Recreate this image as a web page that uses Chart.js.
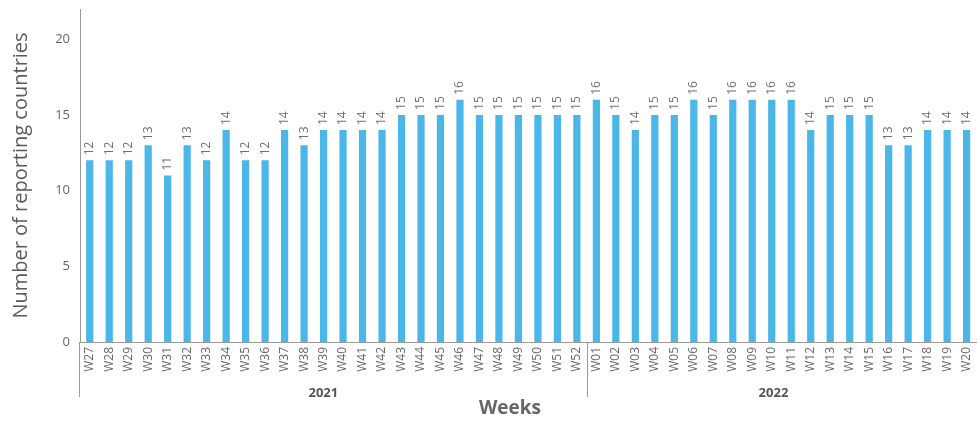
<!DOCTYPE html>
<html>
<head>
<meta charset="utf-8">
<script src="https://cdn.jsdelivr.net/npm/chart.js@4"></script>
<style>
  html, body { margin: 0; padding: 0; background: #fff; overflow: hidden; }
</style>
</head>
<body>
<canvas id="weeksChart" width="986" height="421"></canvas>
<script>
// weeks per year
const weeks2021 = ['W27','W28','W29','W30','W31','W32','W33','W34','W35','W36','W37','W38','W39',
  'W40','W41','W42','W43','W44','W45','W46','W47','W48','W49','W50','W51','W52'];
const weeks2022 = ['W01','W02','W03','W04','W05','W06','W07','W08','W09','W10',
  'W11','W12','W13','W14','W15','W16','W17','W18','W19','W20'];
const countries2021 = [12,12,12,13,11,13,12,14,12,12,14,13,14,14,14,14,15,15,15,16,15,15,15,15,15,15];
const countries2022 = [16,15,14,15,15,16,15,16,16,16,16,14,15,15,15,13,13,14,14,14];
const years = ['2021', '2022'];
const yTicks = [0, 5, 10, 15, 20];

const labels = weeks2021.concat(weeks2022);
const values = countries2021.concat(countries2022);

const fontName = '"Open Sans", "Noto Sans", sans-serif';
const axisGrey = '#9a9a9a';

// value labels, year groups, separators
const extras = {
  id: 'extras',
  afterDatasetsDraw(chart) {
    const ctx = chart.ctx;
    const x = chart.scales.x;
    const area = chart.chartArea;
    const meta = chart.getDatasetMeta(0);

    ctx.save();
    ctx.fillStyle = '#707070';
    ctx.font = '12px ' + fontName;
    ctx.textAlign = 'left';
    ctx.textBaseline = 'middle';
    meta.data.forEach((bar, i) => {
      ctx.save();
      ctx.translate(bar.x, bar.y - 5);
      ctx.rotate(-Math.PI / 2);
      ctx.fillText(String(values[i]), 0, 0);
      ctx.restore();
    });

    // axis extension + year separator
    const sepX = (x.getPixelForValue(weeks2021.length - 1) + x.getPixelForValue(weeks2021.length)) / 2;
    ctx.strokeStyle = axisGrey;
    ctx.lineWidth = 1;
    ctx.beginPath();
    ctx.moveTo(area.left - 0.5, area.bottom);
    ctx.lineTo(area.left - 0.5, 397);
    ctx.moveTo(Math.round(sepX) + 0.5, area.bottom);
    ctx.lineTo(Math.round(sepX) + 0.5, 397);
    ctx.stroke();

    // year labels
    ctx.fillStyle = '#555';
    ctx.font = 'bold 13px ' + fontName;
    ctx.textAlign = 'center';
    const c1 = (x.getPixelForValue(0) + x.getPixelForValue(weeks2021.length - 1)) / 2 - 10;
    const c2 = (x.getPixelForValue(weeks2021.length) + x.getPixelForValue(labels.length - 1)) / 2 - 8;
    ctx.fillText(years[0], c1, 393);
    ctx.fillText(years[1], c2, 393);

    // x axis title
    ctx.fillStyle = '#666';
    ctx.font = 'bold 19px ' + fontName;
    ctx.fillText('Weeks', 510, 409);
    ctx.restore();
  }
};

new Chart(document.getElementById('weeksChart'), {
  type: 'bar',
  data: {
    labels: labels,
    datasets: [{
      label: 'Number of reporting countries',
      data: values,
      backgroundColor: '#4bb6e8',
      borderWidth: 0,
      barPercentage: 0.37,
      categoryPercentage: 1
    }]
  },
  options: {
    responsive: false,
    animation: false,
    layout: { padding: { top: 9, right: 0, left: 0, bottom: 0 } },
    plugins: {
      legend: { display: false },
      tooltip: { enabled: false }
    },
    scales: {
      x: {
        grid: { display: false, drawTicks: false },
        border: { display: true, color: axisGrey, width: 1 },
        ticks: {
          autoSkip: false,
          minRotation: 90,
          maxRotation: 90,
          padding: 5,
          color: '#666',
          font: { family: fontName, size: 12 }
        },
        afterFit(scale) { scale.height = 79; }
      },
      y: {
        min: 0,
        max: 22,
        grid: { display: false, drawTicks: false },
        border: { display: true, color: axisGrey, width: 1 },
        ticks: {
          stepSize: 5,
          padding: 10,
          color: '#666',
          font: { family: fontName, size: 13 }
        },
        afterBuildTicks(scale) {
          scale.ticks = yTicks.map(v => ({ value: v }));
        },
        afterFit(scale) {
          scale.width = 80;
          scale.paddingTop = 0;
          scale.paddingBottom = 0;
        },
        title: {
          display: true,
          text: 'Number of reporting countries',
          color: '#5a5a5a',
          padding: { top: 9, bottom: 0 },
          font: { family: fontName, size: 20 }
        }
      }
    }
  },
  plugins: [extras]
});
</script>
</body>
</html>
